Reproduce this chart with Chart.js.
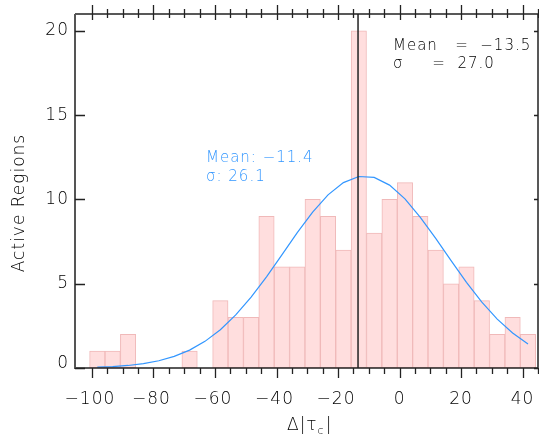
<!DOCTYPE html>
<html>
<head>
<meta charset="utf-8">
<script src="https://cdn.jsdelivr.net/npm/chart.js@4.4.1/dist/chart.umd.min.js"></script>
<style>
  body { margin: 0; background: #fff; }
  #wrap { width: 539px; height: 439px; position: relative; }
</style>
</head>
<body>
<div id="wrap"><canvas id="grafico"></canvas></div>
<script>
// histograma: centros dos bins (largura 5) e contagens
const binCentros = [-98.25, -93.25, -88.25, -83.25, -78.25, -73.25, -68.25, -63.25, -58.25, -53.25,
    -48.25, -43.25, -38.25, -33.25, -28.25, -23.25, -18.25, -13.25, -8.25, -3.25,
    1.75, 6.75, 11.75, 16.75, 21.75, 26.75, 31.75, 36.75, 41.75];
const contagens = [1, 1, 2, 0, 0, 0, 1, 0, 4, 3,
    3, 9, 6, 6, 10, 9, 7, 20, 8, 10,
    11, 9, 7, 5, 6, 4, 2, 3, 2];
// curva ajustada (nos centros dos bins)
const curva = [0.05, 0.08, 0.15, 0.26, 0.43, 0.69, 1.06, 1.58, 2.27, 3.15,
    4.20, 5.41, 6.71, 8.03, 9.25, 10.27, 11.00, 11.36, 11.31, 10.85,
    10.03, 8.94, 7.69, 6.37, 5.08, 3.91, 2.90, 2.08, 1.43];
const mediaLinha = -13.5;
const xTicks = [-100, -80, -60, -40, -20, 0, 20, 40];
const yTicks = [0, 5, 10, 15, 20];

const azul = '#3296ff';
const fonte = '"DejaVu Sans", sans-serif';

const barras = binCentros.map((c, i) => ({ x: c, y: contagens[i] }));
const pontosCurva = binCentros.map((c, i) => ({ x: c, y: curva[i] }));

// eixos desenhados a mao (ticks maiores/menores, textos)
const eixosPlugin = {
    id: 'eixos',
    afterDatasetsDraw(chart) {
        const ctx = chart.ctx;
        const a = chart.chartArea;
        const sx = chart.scales.x;
        const sy = chart.scales.y;
        ctx.save();

        // linha da media
        const xm = sx.getPixelForValue(mediaLinha);
        ctx.strokeStyle = '#222';
        ctx.lineWidth = 1.5;
        ctx.beginPath();
        ctx.moveTo(xm, a.top);
        ctx.lineTo(xm, a.bottom);
        ctx.stroke();

        // caixa
        ctx.strokeStyle = '#222';
        ctx.lineWidth = 1.5;
        ctx.beginPath();
        ctx.moveTo(a.left, a.top); ctx.lineTo(a.right, a.top);
        ctx.moveTo(a.left, a.bottom); ctx.lineTo(a.right, a.bottom);
        ctx.moveTo(a.right, a.top); ctx.lineTo(a.right, a.bottom);
        ctx.stroke();
        ctx.strokeStyle = '#555';
        ctx.lineWidth = 2;
        ctx.beginPath();
        ctx.moveTo(a.left, a.top); ctx.lineTo(a.left, a.bottom + 1);
        ctx.stroke();

        // ticks do eixo x
        ctx.strokeStyle = '#222';
        ctx.lineWidth = 1.3;
        for (let v = -100; v <= 45; v += 5) {
            const px = Math.round(sx.getPixelForValue(v)) + 0.5;
            const maior = v % 20 === 0;
            ctx.beginPath();
            ctx.moveTo(px, a.bottom);
            ctx.lineTo(px, a.bottom + (maior ? 10 : 6));
            ctx.moveTo(px, a.top - (maior ? 9 : 5));
            ctx.lineTo(px, a.top + (maior ? 6 : 4));
            ctx.stroke();
        }
        // ticks do eixo y
        yTicks.forEach(v => {
            const py = Math.round(sy.getPixelForValue(v)) + 0.5;
            ctx.beginPath();
            ctx.moveTo(a.left, py); ctx.lineTo(a.left + 10, py);
            ctx.moveTo(a.right, py); ctx.lineTo(a.right - 4, py);
            ctx.stroke();
        });

        // rotulos
        ctx.fillStyle = '#000';
        ctx.letterSpacing = '1px';
        ctx.font = '200 17px ' + fonte;
        ctx.textBaseline = 'middle';
        ctx.textAlign = 'center';
        xTicks.forEach(v => {
            const txt = v < 0 ? '\u2212' + Math.abs(v) : String(v);
            ctx.fillText(txt, sx.getPixelForValue(v) - (v < 0 ? 2 : 0), 400);
        });
        ctx.textAlign = 'right';
        yTicks.forEach(v => {
            ctx.fillText(String(v), 69, sy.getPixelForValue(v) - (v === 0 ? 4 : 0));
        });

        // titulo x: Δ|τc|
        ctx.textAlign = 'left';
        ctx.font = '200 17px ' + fonte;
        let x0 = 287;
        ctx.fillText('\u0394|\u03c4', x0, 426);
        let w = ctx.measureText('\u0394|\u03c4').width;
        ctx.font = '200 11px ' + fonte;
        ctx.fillText('c', x0 + w, 431);
        let w2 = ctx.measureText('c').width;
        ctx.font = '200 17px ' + fonte;
        ctx.fillText('|', x0 + w + w2 + 1, 426);

        // titulo y
        ctx.save();
        ctx.translate(20, 203);
        ctx.rotate(-Math.PI / 2);
        ctx.textAlign = 'center';
        ctx.font = '200 17px ' + fonte;
        ctx.fillText('Active Regions', 0, 0);
        ctx.restore();

        // anotacoes
        ctx.textAlign = 'left';
        ctx.font = '200 15px ' + fonte;
        ctx.fillStyle = '#000';
        ctx.fillText('Mean   =  \u221213.5', 393, 46);
        ctx.fillText('\u03c3     =  27.0', 393, 64);
        ctx.fillStyle = azul;
        ctx.fillText('Mean: \u221211.4', 206, 158);
        ctx.fillText('\u03c3: 26.1', 206, 177);

        ctx.restore();
    }
};

const ctx = document.getElementById('grafico').getContext('2d');
new Chart(ctx, {
    type: 'bar',
    data: {
        datasets: [
            {
                type: 'line',
                data: pontosCurva,
                borderColor: azul,
                borderWidth: 1.2,
                pointRadius: 0,
                tension: 0,
                order: 0
            },
            {
                type: 'bar',
                data: barras,
                backgroundColor: 'rgba(255, 222, 222, 1)',
                borderColor: 'rgba(240, 185, 185, 1)',
                borderWidth: 1,
                borderSkipped: false,
                barPercentage: 1,
                categoryPercentage: 1,
                grouped: false,
                order: 1
            }
        ]
    },
    options: {
        responsive: true,
        maintainAspectRatio: false,
        animation: false,
        layout: { padding: { top: 14, right: 1, left: 0, bottom: 0 } },
        plugins: { legend: { display: false }, tooltip: { enabled: false } },
        scales: {
            x: {
                type: 'linear',
                offset: false,
                min: -105.5,
                max: 45,
                grid: { display: false },
                border: { display: false },
                ticks: { display: false },
                afterFit: s => { s.height = 71; }
            },
            y: {
                min: 0,
                max: 21,
                grid: { display: false },
                border: { display: false },
                ticks: { display: false },
                afterFit: s => { s.width = 75; }
            }
        }
    },
    plugins: [eixosPlugin]
});
</script>
</body>
</html>
